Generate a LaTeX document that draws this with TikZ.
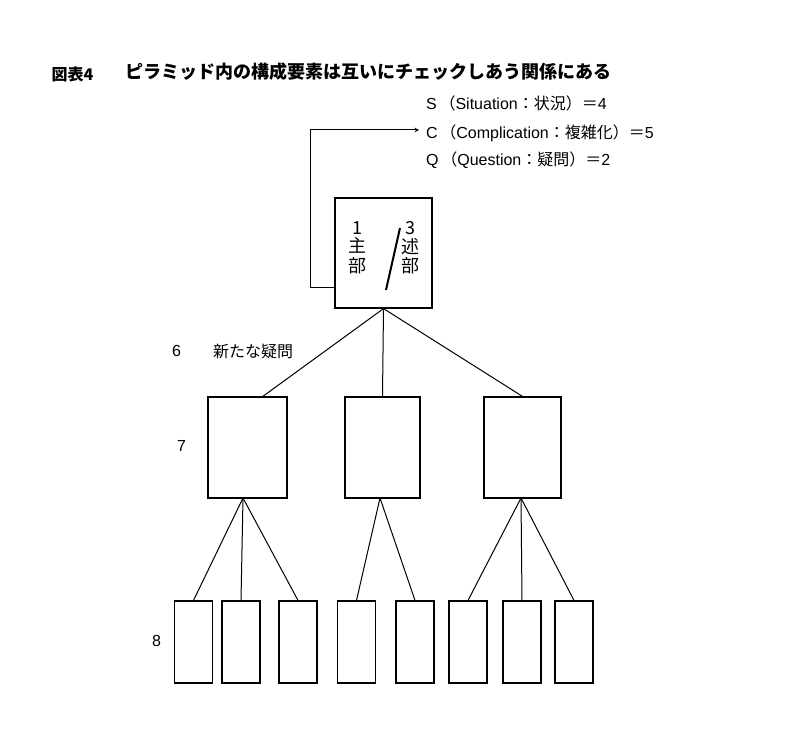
\documentclass[tikz,border=0pt]{standalone}
\usepackage{fontspec}
\setmainfont{Liberation Sans}
\newfontfamily\jp{Noto Sans CJK JP}
\usetikzlibrary{arrows, positioning}
\tikzstyle{box} = [rectangle, draw=black, line width=1.2pt, inner sep=0pt]
\tikzstyle{line} = [line width=1pt]
\tikzstyle{arrow} = [line width=1pt,->,>=stealth]
\tikzstyle{lbl} = [font=\fontsize{16}{18}\selectfont, anchor=west, inner sep=0pt]
\tikzstyle{inbox} = [font=\fontsize{18}{20}\selectfont\jp, inner sep=1pt]
\begin{document}
\begin{tikzpicture}[x=1pt, y=-1pt]
\useasboundingbox (0,0) rectangle (800,730);
\node (fig) [anchor=west, font=\fontsize{16}{18}\selectfont\jp\bfseries] at (48,74) {図表4};
\node (title) [anchor=west, font=\fontsize{18}{20}\selectfont\jp\bfseries] at (122,72) {ピラミッド内の構成要素は互いにチェックしあう関係にある};
\node (S) [lbl] at (426,103) {S\,{\jp（}Situation{\jp：状況）＝}4};
\node (C) [lbl] at (426,133) {C\,{\jp（}Complication{\jp：複雑化）＝}5};
\node (Q) [lbl] at (426,160) {Q\,{\jp（}Question{\jp：疑問）＝}2};

% top
\node (top) [box, minimum width=97pt, minimum height=110pt] at (383.5,253) {};
\node (n1) [inbox] at (357,228) {1};
\node (shu) [inbox, below=1pt of n1] {主};
\node (bu1) [inbox, below=1pt of shu] {部};
\node (n3) [inbox] at (410,228) {3};
\node (jutsu) [inbox, below=1pt of n3] {述};
\node (bu2) [inbox, below=1pt of jutsu] {部};
\draw [line width=2pt] (386,290) -- (400,228);
\coordinate (arrEnd) at (419,130);
\draw [arrow] (top.west |- 0,287) -| (310,130) -- (arrEnd);

% labels
\node (l6) [lbl] at (172,351) {6};
\node (q6) [lbl, font=\fontsize{16}{18}\selectfont\jp] at (213,351) {新たな疑問};
\node (l7) [lbl] at (177,446) {7};
\node (l8) [lbl] at (152,641) {8};

% level 2
\node (A) [box, minimum width=79pt, minimum height=101pt] at (247.5,447.5) {};
\node (B) [box, minimum width=75pt, minimum height=101pt] at (382.5,447.5) {};
\node (D) [box, minimum width=77pt, minimum height=101pt] at (522.5,447.5) {};
\draw [line] (top.south) -- (262,397);
\draw [line] (top.south) -- (B.north);
\draw [line] (top.south) -- (D.north);

% level 3
\foreach \x/\n in {193.5/a1, 241/a2, 298/a3, 356.5/b1, 415/b2, 468/c1, 522/c2, 574/c3}
  \node (\n) [box, minimum width=38pt, minimum height=82pt] at (\x,642) {};
\foreach \n in {a1, a2, a3} \draw [line] (243,498) -- (\n.north);
\foreach \n in {b1, b2} \draw [line] (380,498) -- (\n.north);
\foreach \n in {c1, c2, c3} \draw [line] (521,498) -- (\n.north);
\end{tikzpicture}
\end{document}
